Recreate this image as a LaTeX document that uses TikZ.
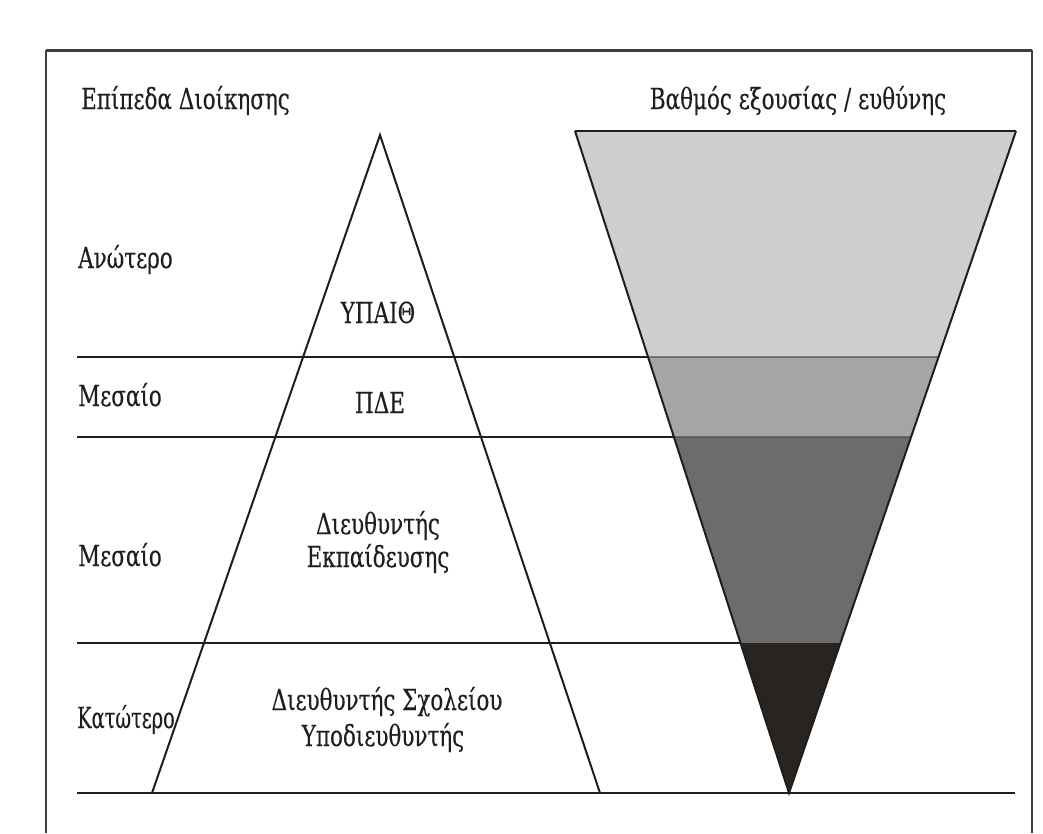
\documentclass[tikz,border=0pt]{standalone}
\usepackage{fontspec}
\setmainfont{DejaVu Serif}[FakeStretch=0.74,FakeBold=0.3]
\definecolor{bandA}{HTML}{CECECE}
\definecolor{bandB}{HTML}{A5A5A5}
\definecolor{bandC}{HTML}{6C6C6C}
\definecolor{bandD}{HTML}{2A2421}
\definecolor{ink}{HTML}{1E1E1E}
\begin{document}
\begin{tikzpicture}[x=1pt,y=-1pt,
  lbl/.style={inner sep=0pt, text=ink, font=\fontsize{29}{34}\selectfont},
  hline/.style={line width=2.8pt, draw=ink},
  side/.style={line width=2pt, draw=ink},
  bound/.style={line width=1.4pt, draw=ink!80},
  framel/.style={line width=2pt, draw=ink!85}]
\useasboundingbox (0,0) rectangle (1043,833);
\fill[white] (0,0) rectangle (1043,833);
% frame
\coordinate (fr-tl) at (46,50);
\coordinate (fr-tr) at (1032,50);
\coordinate (fr-bl) at (46,833);
\coordinate (fr-br) at (1032,833);
\draw[framel, line width=3pt] (fr-tl) -- (fr-tr);
\draw[framel] (fr-tl) -- (fr-bl);
\draw[framel] (fr-tr) -- (fr-br);
% key points
\coordinate (apex) at (380,135);
\coordinate (pbl) at (152,793);
\coordinate (pbr) at (600,793);
\coordinate (ftl) at (575,131);
\coordinate (ftr) at (1016,131);
\coordinate (fap) at (789,793);
\coordinate (l1a) at (77,357);  \coordinate (l1b) at (1100,357);
\coordinate (l2a) at (77,437);  \coordinate (l2b) at (1100,437);
\coordinate (l3a) at (77,643);  \coordinate (l3b) at (1100,643);
\coordinate (l4a) at (77,793);  \coordinate (l4b) at (1015,793);
\coordinate (f1) at (intersection of l1a--l1b and ftl--fap);
\coordinate (f2) at (intersection of l2a--l2b and ftl--fap);
\coordinate (f3) at (intersection of l3a--l3b and ftl--fap);
\coordinate (g1) at (intersection of l1a--l1b and ftr--fap);
\coordinate (g2) at (intersection of l2a--l2b and ftr--fap);
\coordinate (g3) at (intersection of l3a--l3b and ftr--fap);
% funnel bands
\fill[bandA] (ftl) -- (ftr) -- (g1) -- (f1) -- cycle;
\fill[bandB] (f1) -- (g1) -- (g2) -- (f2) -- cycle;
\fill[bandC] (f2) -- (g2) -- (g3) -- (f3) -- cycle;
\fill[bandD] (f3) -- (g3) -- (fap) -- cycle;
\draw[bound] (f1) -- (g1);
\draw[bound] (f2) -- (g2);
\draw[side] (ftl) -- (fap) -- (ftr);
\draw[side, line width=2.8pt] (ftl) -- (ftr);
% level lines
\draw[hline] (l1a) -- (f1);
\draw[hline] (l2a) -- (f2);
\draw[hline] (l3a) -- (f3);
\draw[hline] (l4a) -- (l4b);
% pyramid
\draw[side] (pbl) -- (apex) -- (pbr);
% texts
\node[lbl, anchor=base west] (t1) at (81,109) {Επίπεδα Διοίκησης};
\node[lbl, anchor=base] (t2) at (798,109) {Βαθμός εξουσίας / ευθύνης};
\node[lbl, anchor=base west] (n1) at (78,268) {Ανώτερο};
\node[lbl, anchor=base] (p1) at (378,323) {ΥΠΑΙΘ};
\node[lbl, anchor=base west] (n2) at (78,406) {Μεσαίο};
\node[lbl, anchor=base] (p2) at (380,413) {ΠΔΕ};
\node[lbl, anchor=base west] (n3) at (78,566) {Μεσαίο};
\node[lbl, anchor=base] (p3a) at (378,534) {Διευθυντής};
\node[lbl, anchor=base] (p3b) at (378,567) {Εκπαίδευσης};
\node[lbl, anchor=base west] (n4) at (77,728) {\scalebox{0.9}[1]{Κατώτερο}};
\node[lbl, anchor=base] (p4a) at (387,710) {Διευθυντής Σχολείου};
\node[lbl, anchor=base] (p4b) at (383,746) {Υποδιευθυντής};
\end{tikzpicture}
\end{document}
